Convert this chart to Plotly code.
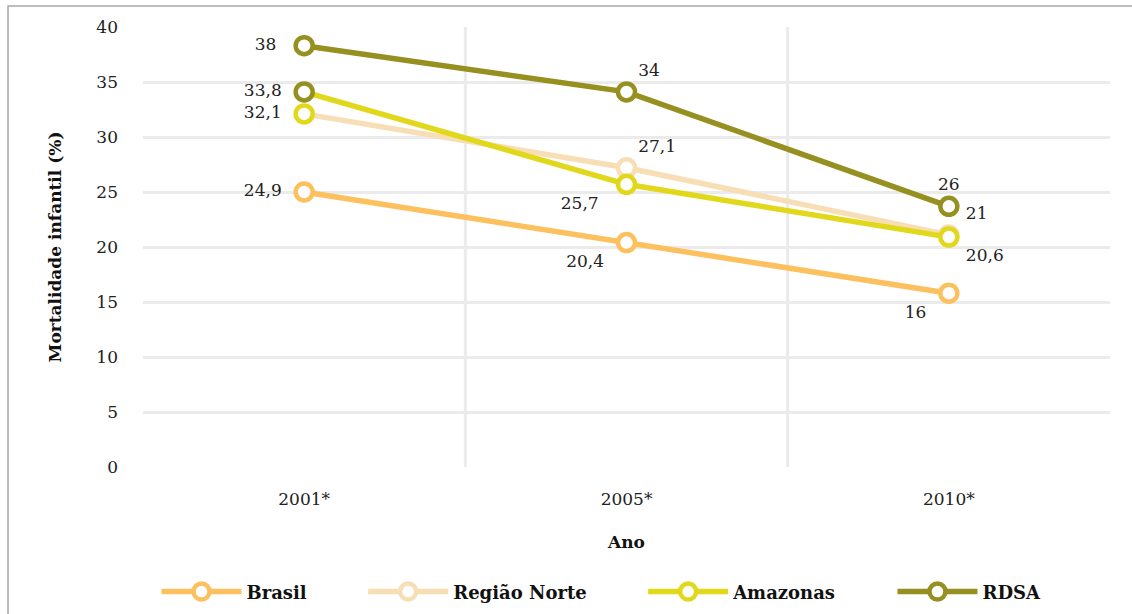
import plotly.graph_objects as go

years = ["2001*", "2005*", "2010*"]
series_names = ["Brasil", "Região Norte", "Amazonas", "RDSA"]
brasil = [25.0, 20.4, 15.8]
regiao_norte = [32.1, 27.2, 21.1]
amazonas = [34.1, 25.7, 20.9]
rdsa = [38.3, 34.1, 23.7]
brasil_labels = ["24,9", "20,4", "16"]
regiao_norte_labels = ["32,1", "27,1", "21"]
amazonas_labels = ["33,8", "25,7", "20,6"]
rdsa_labels = ["38", "34", "26"]

C_BR = "#fcc15e"
C_RN = "#f7deb5"
C_AM = "#e1d81b"
C_RD = "#969021"

FONT = "DejaVu Serif"
NB = "\u00a0"

specs = [
    (series_names[0], brasil, [l + NB * 2 for l in brasil_labels], C_BR, [C_BR, C_BR, C_BR],
     ["middle left", "bottom left", "bottom left"]),
    (series_names[1], regiao_norte, [regiao_norte_labels[0] + NB * 2, regiao_norte_labels[1], NB + regiao_norte_labels[2]],
     C_RN, [C_AM, C_RN, C_RN],
     ["middle left", "top right", "top right"]),
    (series_names[2], amazonas, [amazonas_labels[0] + NB * 2, amazonas_labels[1] + NB * 3, NB + amazonas_labels[2]],
     C_AM, [C_RD, C_AM, C_AM],
     ["middle left", "bottom left", "bottom right"]),
    (series_names[3], rdsa, [rdsa_labels[0] + NB * 3, rdsa_labels[1], rdsa_labels[2]],
     C_RD, [C_RD, C_RD, C_RD],
     ["middle left", "top right", "top center"]),
]

fig = go.Figure()

# vertical separators between categories
for xv in [0.5, 1.5]:
    fig.add_shape(type="line", xref="x", yref="paper", x0=xv, x1=xv, y0=0, y1=1,
                  line=dict(color="#ebebeb", width=3), layer="below")

for name, vals, labels, color, mcolors, tpos in specs:
    fig.add_trace(go.Scatter(
        x=years, y=vals, name=name, mode="lines+markers+text",
        text=labels, textposition=tpos,
        textfont=dict(family=FONT, size=17, color="#222222"),
        line=dict(color=color, width=5.5),
        marker=dict(symbol="circle", size=17, color="white",
                    line=dict(color=mcolors, width=4.5)),
        cliponaxis=False, showlegend=False,
    ))

# legend entries
for name, color in zip(series_names, [C_BR, C_RN, C_AM, C_RD]):
    fig.add_trace(go.Scatter(
        x=[None], y=[None], mode="lines+markers",
        name="<b>" + name + "</b>" + NB * 9,
        line=dict(color=color, width=5.5),
        marker=dict(symbol="circle", size=17, color="white",
                    line=dict(color=color, width=4.5)),
        showlegend=True,
    ))

# outer frame
fig.add_shape(type="rect", xref="paper", yref="paper",
              x0=-0.1396, x1=1.06, y0=-0.5, y1=1.0477,
              line=dict(color="#a6a6a6", width=1.5), fillcolor="rgba(0,0,0,0)")

fig.update_layout(
    width=1132, height=614,
    margin=dict(l=143, r=22, t=27, b=147, autoexpand=False),
    paper_bgcolor="white", plot_bgcolor="white",
    font=dict(family=FONT, color="#222222"),
    xaxis=dict(type="category", range=[-0.5, 2.5], showgrid=False, zeroline=False,
               showline=False, ticks="", automargin=False,
               ticklabelstandoff=20,
               tickfont=dict(family=FONT, size=17, color="#222222"),
               title=dict(text="<b>Ano</b>", font=dict(family=FONT, size=17, color="#111111"),
                          standoff=28)),
    yaxis=dict(range=[0, 40], dtick=5, showgrid=True, gridcolor="#ebebeb", gridwidth=3,
               zeroline=False, showline=False, ticks="", automargin=False,
               tickfont=dict(family=FONT, size=17, color="#222222"),
               ticklabelstandoff=24,
               title=dict(text="<b>Mortalidade infantil (%)</b>",
                          font=dict(family=FONT, size=17, color="#111111"), standoff=30)),
    legend=dict(orientation="h", x=0.5, xanchor="center",
                yref="container", y=0.036, yanchor="middle",
                font=dict(family=FONT, size=18, color="#111111"),
                itemwidth=80,
                bgcolor="rgba(0,0,0,0)"),
    showlegend=True,
)

fig.write_html("out.html", config={"displayModeBar": False},
               post_script="document.body.style.margin='0';document.body.style.overflow='hidden';")
